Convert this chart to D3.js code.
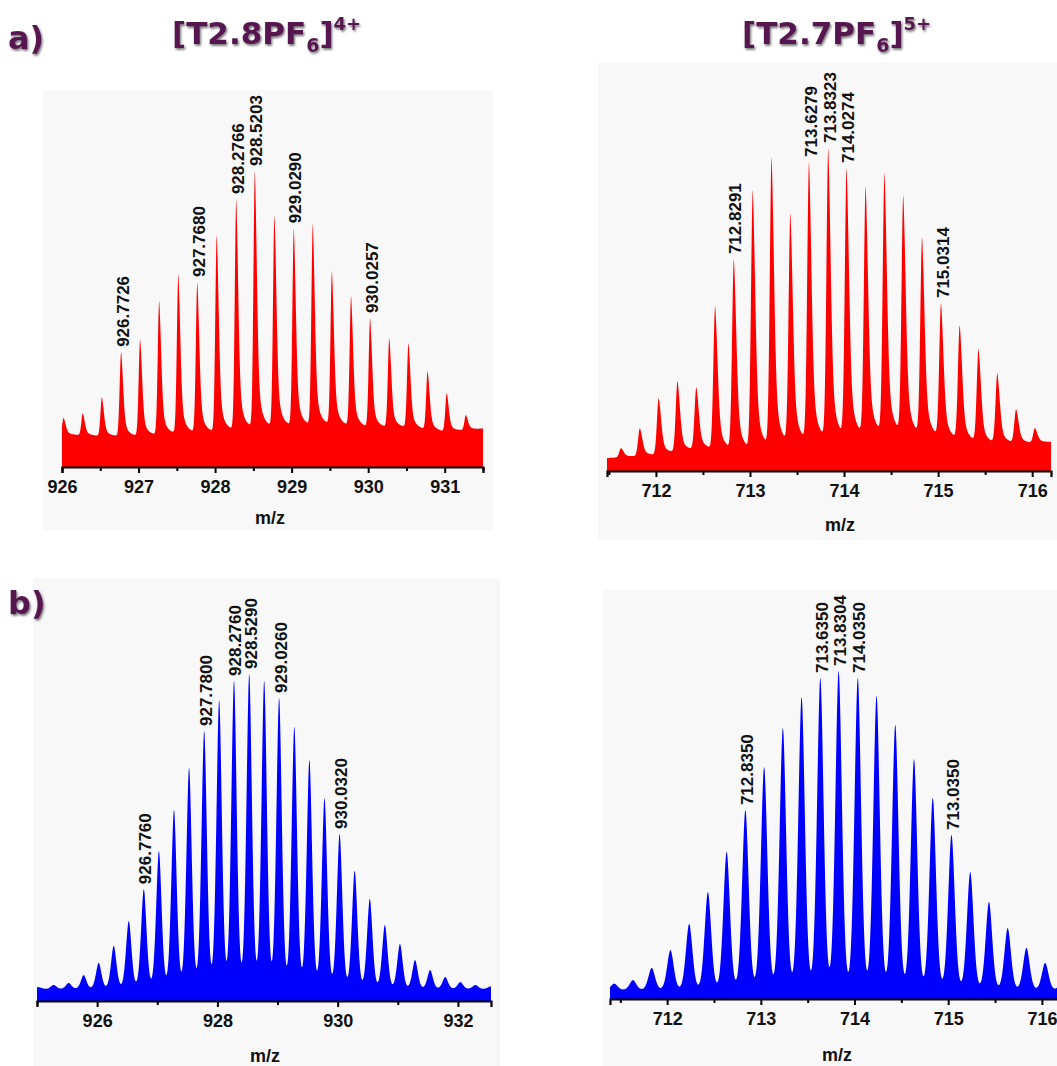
<!DOCTYPE html>
<html>
<head>
<meta charset="utf-8">
<script src="https://cdn.jsdelivr.net/npm/d3@7"></script>
<style>
  body { margin: 0; background: #fff; }
  svg { display: block; }
  .tick text, .axis-title { font-family: "Liberation Sans", Arial, sans-serif; font-weight: bold; }
</style>
</head>
<body>
<svg id="fig" width="1057" height="1066"></svg>
<script>
// ---------- a) measured isotope pattern, [T2.8PF6]4+ ----------
const expA_mz  = [926.022, 926.272, 926.522, 926.7726, 927.021, 927.270, 927.520, 927.7680, 928.022, 928.2766, 928.5203,
                  928.776, 929.0290, 929.277, 929.527, 929.777, 930.0257, 930.276, 930.527, 930.777, 931.027, 931.277];
const expA_int = [16.6, 18.2, 23.6, 38.9, 43.2, 56.1, 65.2, 62.5, 78.4, 90.5, 100,
                  85.1, 80.7, 82.1, 66.2, 57.8, 50.3, 43.6, 41.9, 32.4, 25.0, 17.6];
const expA_baseMz = [926.0, 926.5, 927.0, 927.5, 928.0, 928.5, 929.0, 929.5, 930.0, 930.5, 931.0, 931.5];
const expA_base   = [11, 10.5, 10.5, 11.5, 12, 13.5, 14, 14.5, 13.5, 13.5, 12, 13];
const expA_labMz   = [926.7726, 927.7680, 928.2766, 928.5203, 929.0290, 930.0257];
const expA_labText = ["926.7726", "927.7680", "928.2766", "928.5203", "929.0290", "930.0257"];
const expA_ticks = [926, 927, 928, 929, 930, 931];
const expA_minor = [926.5, 927.5, 928.5, 929.5, 930.5, 931.5];

// ---------- a) measured isotope pattern, [T2.7PF6]5+ ----------
const expB_mz  = [711.63, 711.83, 712.03, 712.23, 712.43, 712.63, 712.8291, 713.03, 713.23, 713.43, 713.6279, 713.8323,
                  714.0274, 714.23, 714.43, 714.63, 714.83, 715.0314, 715.23, 715.43, 715.63, 715.83, 716.03];
const expB_int = [7.1, 13.3, 22.6, 27.9, 26.0, 51.1, 65.6, 87.0, 97.2, 79.9, 95.7, 100,
                  93.8, 88.2, 92.3, 85.4, 72.4, 52.0, 45.2, 37.8, 30.3, 19.2, 13.3];
const expB_baseMz = [711.48, 712.0, 712.5, 713.0, 713.5, 714.0, 714.5, 715.0, 715.5, 716.0, 716.2];
const expB_base   = [4, 5, 7, 6.5, 9, 10.5, 12, 10.5, 8.7, 8.7, 9];
const expB_labMz   = [712.8291, 713.6279, 713.8323, 714.0274, 715.0314];
const expB_labText = ["712.8291", "713.6279", "713.8323", "714.0274", "715.0314"];
const expB_ticks = [712, 713, 714, 715, 716];
const expB_minor = [711.5, 712.5, 713.5, 714.5, 715.5];

// ---------- b) simulated isotope pattern, [T2.8PF6]4+ ----------
const simC_mz  = [925.026, 925.276, 925.526, 925.776, 926.026, 926.276, 926.526, 926.776, 927.027, 927.278, 927.529,
                  927.780, 928.029, 928.276, 928.529, 928.778, 929.026, 929.279, 929.530, 929.781, 930.032, 930.283,
                  930.534, 930.785, 931.036, 931.287, 931.538, 931.789, 932.040, 932.291, 932.542];
const simC_int = [0.6, 1.3, 1.9, 4.4, 8.3, 13.7, 21.6, 31.7, 43.8, 56.8, 70.2,
                  81.9, 91.7, 97.8, 100, 97.8, 92.4, 83.2, 72.7, 60.6, 49.2, 37.5,
                  28.6, 20.3, 14.3, 9.2, 6.0, 3.8, 2.2, 1.3, 0.8];
const simC_labMz   = [926.776, 927.780, 928.276, 928.529, 929.026, 930.032];
const simC_labText = ["926.7760", "927.7800", "928.2760", "928.5290", "929.0260", "930.0320"];
const simC_ticks = [926, 928, 930, 932];
const simC_minor = [925, 927, 929, 931];

// ---------- b) simulated isotope pattern, [T2.7PF6]5+ ----------
const simD_mz  = [711.435, 711.635, 711.835, 712.035, 712.235, 712.435, 712.635, 712.835, 713.035, 713.235, 713.435,
                  713.635, 713.8304, 714.035, 714.235, 714.435, 714.635, 714.835, 715.035, 715.235, 715.435, 715.635,
                  715.835, 716.035, 716.235];
const simD_int = [2, 3.1, 6.9, 12.5, 20.7, 30.7, 43.3, 56.4, 69.9, 82.1, 91.8,
                  97.8, 100, 97.8, 92.2, 83.1, 72.4, 60.2, 48.6, 37.0, 27.6, 19.4,
                  13.2, 8.5, 5];
const simD_labMz   = [712.835, 713.635, 713.8304, 714.035, 715.035];
const simD_labText = ["712.8350", "713.6350", "713.8304", "714.0350", "713.0350"];
const simD_ticks = [712, 713, 714, 715, 716];
const simD_minor = [711.5, 712.5, 713.5, 714.5, 715.5];

const svg = d3.select("#fig");
const PURPLE = "#56184f";

// soft shadow used by the panel headings
const defs = svg.append("defs");
const sh = defs.append("filter").attr("id", "shadow").attr("x", "-20%").attr("y", "-20%")
  .attr("width", "140%").attr("height", "160%");
sh.append("feDropShadow").attr("dx", 1.2).attr("dy", 1.8).attr("stdDeviation", 1.1)
  .attr("flood-color", "#000").attr("flood-opacity", 0.55);

// measured peaks: steep leading edge, tailing trailing edge
function expShape(d) {
  if (d < 0) return Math.exp(-d * d / (2 * 0.019 * 0.019));
  return 0.6 * Math.exp(-d * d / (2 * 0.026 * 0.026)) + 0.4 * Math.exp(-d / 0.05);
}
// simulated peaks: pseudo-Voigt (mostly gaussian with lorentzian wings)
function simShape(sigma, gamma, eta) {
  return d => (1 - eta) * Math.exp(-d * d / (2 * sigma * sigma)) + eta / (1 + (d / gamma) * (d / gamma));
}

function panel(cfg) {
  const g = svg.append("g");
  g.append("rect").attr("x", cfg.bg[0]).attr("y", cfg.bg[1]).attr("width", cfg.bg[2]).attr("height", cfg.bg[3])
    .attr("fill", "#f8f8f8");

  const x = d3.scaleLinear().domain(cfg.xDomain).range(cfg.xRange);
  const y = d3.scaleLinear().domain([0, 100]).range([cfg.zeroY, cfg.topY]);
  const base = cfg.baseMz ? d3.scaleLinear().domain(cfg.baseMz).range(cfg.base).clamp(true) : () => 0;

  const peaks = cfg.mz.map((m, i) => ({ m, h: cfg.int[i] - base(m) }));
  const profile = m => {
    let v = base(m);
    for (const p of peaks) {
      const d = m - p.m;
      if (Math.abs(d) < 1.5) v += p.h * cfg.shape(d);
    }
    return v;
  };
  // adjust peak heights so that the summed trace peaks at the listed intensities
  for (let it = 0; it < 30; it++) {
    const err = cfg.mz.map((m, i) => cfg.int[i] - profile(m));
    peaks.forEach((p, i) => { p.h = Math.max(0, p.h + 0.8 * err[i]); });
  }

  const n = 2400;
  const [x0, x1] = cfg.xDomain;
  const pts = d3.range(n + 1).map(i => {
    const m = x0 + (x1 - x0) * i / n;
    return [m, profile(m)];
  });

  const area = d3.area().x(d => x(d[0])).y0(cfg.axisY).y1(d => y(d[1]));
  g.append("path").datum(pts).attr("d", area).attr("fill", cfg.color);

  // axis: major ticks with labels, minor ticks without
  const ax = g.append("g").attr("transform", `translate(0,${cfg.axisY})`);
  ax.call(d3.axisBottom(x).tickValues(cfg.ticks).tickSize(6).tickPadding(7).tickFormat(d3.format("d")));
  const axm = g.append("g").attr("transform", `translate(0,${cfg.axisY})`);
  axm.call(d3.axisBottom(x).tickValues(cfg.minor).tickSize(4).tickFormat(""));
  axm.select(".domain").remove();
  g.selectAll(".domain").attr("stroke", "#000").attr("stroke-width", 2.2);
  g.selectAll(".tick line").attr("stroke", "#000").attr("stroke-width", 2);
  ax.selectAll(".tick text").attr("font-size", 18).attr("fill", "#111");

  g.append("text").attr("class", "axis-title")
    .attr("x", cfg.titleX).attr("y", cfg.axisY + cfg.titleDy)
    .attr("text-anchor", "middle").attr("font-size", 18).attr("fill", "#111").text("m/z");

  // rotated peak labels sitting on their peaks
  g.selectAll(".plabel").data(cfg.labMz).join("text")
    .attr("class", "plabel")
    .attr("transform", m => `translate(${x(m) + 2},${y(profile(m)) - 5}) rotate(-90)`)
    .attr("dominant-baseline", "central")
    .attr("font-family", "Liberation Sans, Arial, sans-serif")
    .attr("font-weight", "bold").attr("font-size", 17).attr("fill", "#111")
    .text((m, i) => cfg.labText[i]);
}

panel({ bg: [43, 90, 450, 440], xDomain: [926, 931.5], xRange: [62, 483], zeroY: 467, topY: 171, axisY: 467,
  mz: expA_mz, int: expA_int, baseMz: expA_baseMz, base: expA_base, shape: expShape, color: "#ff0000",
  ticks: expA_ticks, minor: expA_minor, labMz: expA_labMz, labText: expA_labText, titleX: 270, titleDy: 57 });

panel({ bg: [598, 63, 459, 477], xDomain: [711.48, 716.2], xRange: [607, 1051], zeroY: 471, topY: 148, axisY: 471,
  mz: expB_mz, int: expB_int, baseMz: expB_baseMz, base: expB_base, shape: expShape, color: "#ff0000",
  ticks: expB_ticks, minor: expB_minor, labMz: expB_labMz, labText: expB_labText, titleX: 840, titleDy: 60 });

panel({ bg: [33, 578, 467, 488], xDomain: [925, 932.55], xRange: [37, 491], zeroY: 989, topY: 674, axisY: 1001,
  mz: simC_mz, int: simC_int, shape: simShape(0.047, 0.04, 0.2), color: "#0000ff",
  ticks: simC_ticks, minor: simC_minor, labMz: simC_labMz, labText: simC_labText, titleX: 265, titleDy: 61 });

panel({ bg: [603, 590, 454, 476], xDomain: [711.39, 716.3], xRange: [610, 1070], zeroY: 990, topY: 671, axisY: 999,
  mz: simD_mz, int: simD_int, shape: simShape(0.036, 0.03, 0.15), color: "#0000ff",
  ticks: simD_ticks, minor: simD_minor, labMz: simD_labMz, labText: simD_labText, titleX: 837, titleDy: 62 });

// headings
function heading(x, y, main, sub, sup, size) {
  const t = svg.append("text").attr("x", x).attr("y", y)
    .attr("font-family", "DejaVu Sans, sans-serif").attr("font-weight", "bold")
    .attr("font-size", size).attr("fill", PURPLE).attr("filter", "url(#shadow)");
  t.append("tspan").text(main);
  if (sub) {
    t.append("tspan").attr("font-size", 19).attr("dy", 8).text(sub);
    t.append("tspan").attr("dy", -8).text("]");
    t.append("tspan").attr("font-size", 18).attr("dy", -14).text(sup);
  }
}
heading(8, 49, "a)", null, null, 32);
heading(8, 614, "b)", null, null, 32);
heading(172, 44, "[T2.8PF", "6", "4+", 31);
heading(742, 44, "[T2.7PF", "6", "5+", 31);
</script>
</body>
</html>
